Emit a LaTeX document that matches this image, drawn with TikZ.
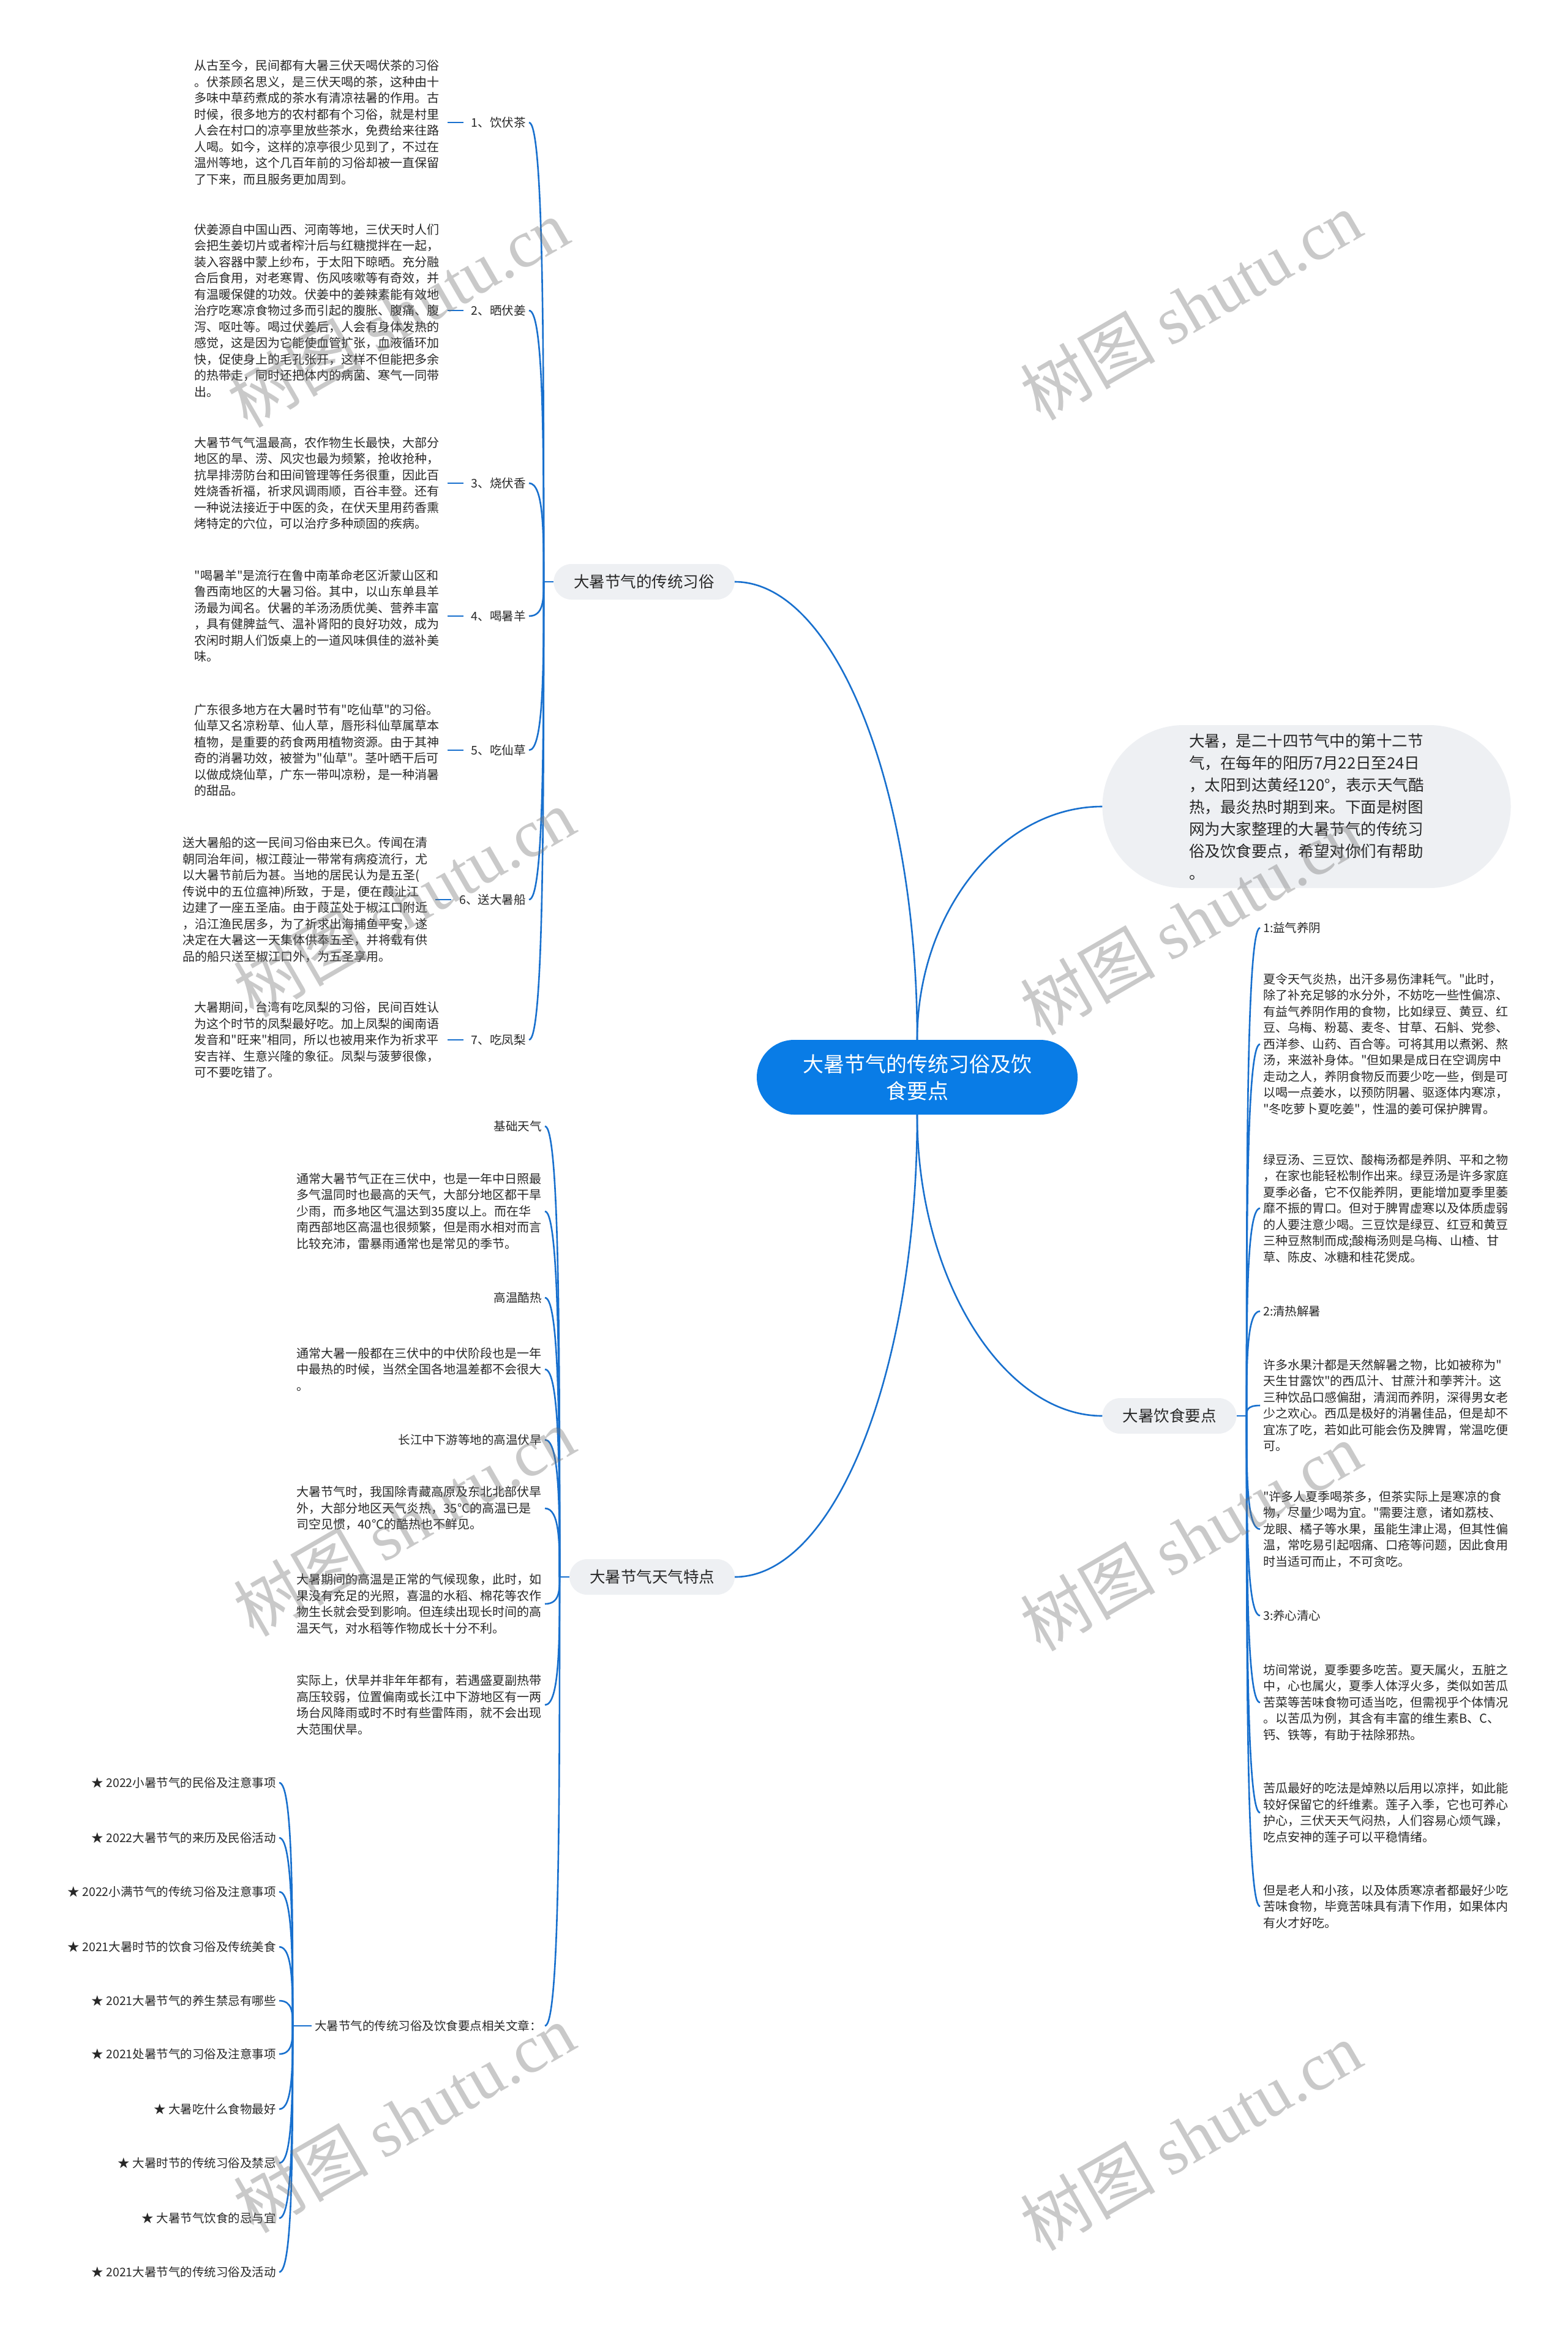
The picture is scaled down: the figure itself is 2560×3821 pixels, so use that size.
\documentclass[tikz,border=0pt]{standalone}
\usepackage{fontspec}
\setmainfont[Ligatures=TeXOff]{Noto Sans CJK SC}
\newfontfamily\wmlatin{Liberation Serif}
\usetikzlibrary{calc}
\definecolor{lineblue}{RGB}{24,112,206}
\definecolor{rootblue}{RGB}{9,124,230}
\definecolor{pillgray}{RGB}{238,240,243}
\definecolor{txt}{RGB}{40,40,40}
\newcommand\hookc[2]{\draw[conn] (#1) .. controls ($(#1)!0.5!(#1 |- #2)$) and (#1 |- #2) .. (#2);}
\begin{document}
\begin{tikzpicture}[x=1pt,y=-1pt,
  conn/.style={draw=lineblue, line width=2.6pt},
  body/.style={font=\fontsize{20}{26.5}\selectfont, align=left, inner xsep=5pt, inner ysep=3pt, text=txt},
  lbl/.style={font=\fontsize{19.5}{26.5}\selectfont, inner xsep=5pt, inner ysep=3pt, text=txt},
  pill/.style={fill=pillgray, rounded corners=29pt, minimum height=58pt, inner xsep=33pt, text=txt, font=\fontsize{25.5}{30}\selectfont},
  root/.style={fill=rootblue, text=white, rounded corners=61pt, minimum height=122pt, minimum width=524pt, align=center, font=\fontsize{34}{44}\selectfont},
  intro/.style={fill=pillgray, rounded corners=133pt, minimum height=266pt, minimum width=667pt, align=left, text=txt, font=\fontsize{25.5}{36}\selectfont},
  wmark/.style={text=black!55, opacity=0.38, rotate=30, font=\fontsize{110}{115}\selectfont}
]
\fill[white] (0,0) rectangle (2560,3821);
\useasboundingbox (0,0) rectangle (2560,3821);

% root and main branches
\node[root] (C) at (1498,1759) {大暑节气的传统习俗及饮\\食要点};
\node[pill] (P1) at (1052,950) {大暑节气的传统习俗};
\node[pill] (P2) at (1065,2575) {大暑节气天气特点};
\node[pill] (P3) at (1910,2312) {大暑饮食要点};
\node[intro] (I) at (2134,1317) {大暑，是二十四节气中的第十二节\\气，在每年的阳历7月22日至24日\\，太阳到达黄经120°，表示天气酷\\热，最炎热时期到来。下面是树图\\网为大家整理的大暑节气的传统习\\俗及饮食要点，希望对你们有帮助\\。};

\draw[conn] (C.north) .. controls (1498,1290) and (1365,950) .. (P1.east);
\draw[conn] (C.north) .. controls (1498,1490) and (1635,1317) .. (I.west);
\draw[conn] (C.south) .. controls (1498,2090) and (1640,2312) .. (P3.west);
\draw[conn] (C.south) .. controls (1498,2235) and (1365,2575) .. (P2.east);

% customs branch
\coordinate (J1) at (888,950);
\draw[conn] (P1.west) -- (J1);
\node[lbl, anchor=east] (L1) at (864,200) {1、饮伏茶};
\node[lbl, anchor=east] (L2) at (864,507) {2、晒伏姜};
\node[lbl, anchor=east] (L3) at (864,789) {3、烧伏香};
\node[lbl, anchor=east] (L4) at (864,1006) {4、喝暑羊};
\node[lbl, anchor=east] (L5) at (864,1225) {5、吃仙草};
\node[lbl, anchor=east] (L6) at (864,1469) {6、送大暑船};
\node[lbl, anchor=east] (L7) at (864,1698) {7、吃凤梨};
\foreach \n in {L1,L2,L3,L4,L5,L6,L7}{\hookc{J1}{\n.east}}

\node[body, anchor=east] (T1) at ($(L1.west)+(-42,0)$) {从古至今，民间都有大暑三伏天喝伏茶的习俗\\。伏茶顾名思义，是三伏天喝的茶，这种由十\\多味中草药煮成的茶水有清凉祛暑的作用。古\\时候，很多地方的农村都有个习俗，就是村里\\人会在村口的凉亭里放些茶水，免费给来往路\\人喝。如今，这样的凉亭很少见到了，不过在\\温州等地，这个几百年前的习俗却被一直保留\\了下来，而且服务更加周到。};
\node[body, anchor=east] (T2) at ($(L2.west)+(-42,0)$) {伏姜源自中国山西、河南等地，三伏天时人们\\会把生姜切片或者榨汁后与红糖搅拌在一起，\\装入容器中蒙上纱布，于太阳下晾晒。充分融\\合后食用，对老寒胃、伤风咳嗽等有奇效，并\\有温暖保健的功效。伏姜中的姜辣素能有效地\\治疗吃寒凉食物过多而引起的腹胀、腹痛、腹\\泻、呕吐等。喝过伏姜后，人会有身体发热的\\感觉，这是因为它能使血管扩张，血液循环加\\快，促使身上的毛孔张开，这样不但能把多余\\的热带走，同时还把体内的病菌、寒气一同带\\出。};
\node[body, anchor=east] (T3) at ($(L3.west)+(-42,0)$) {大暑节气气温最高，农作物生长最快，大部分\\地区的旱、涝、风灾也最为频繁，抢收抢种，\\抗旱排涝防台和田间管理等任务很重，因此百\\姓烧香祈福，祈求风调雨顺，百谷丰登。还有\\一种说法接近于中医的灸，在伏天里用药香熏\\烤特定的穴位，可以治疗多种顽固的疾病。};
\node[body, anchor=east] (T4) at ($(L4.west)+(-42,0)$) {"喝暑羊"是流行在鲁中南革命老区沂蒙山区和\\鲁西南地区的大暑习俗。其中，以山东单县羊\\汤最为闻名。伏暑的羊汤汤质优美、营养丰富\\，具有健脾益气、温补肾阳的良好功效，成为\\农闲时期人们饭桌上的一道风味俱佳的滋补美\\味。};
\node[body, anchor=east] (T5) at ($(L5.west)+(-42,0)$) {广东很多地方在大暑时节有"吃仙草"的习俗。\\仙草又名凉粉草、仙人草，唇形科仙草属草本\\植物，是重要的药食两用植物资源。由于其神\\奇的消暑功效，被誉为"仙草"。茎叶晒干后可\\以做成烧仙草，广东一带叫凉粉，是一种消暑\\的甜品。};
\node[body, anchor=east] (T6) at ($(L6.west)+(-42,0)$) {送大暑船的这一民间习俗由来已久。传闻在清\\朝同治年间，椒江葭沚一带常有病疫流行，尤\\以大暑节前后为甚。当地的居民认为是五圣(\\传说中的五位瘟神)所致，于是，便在葭沚江\\边建了一座五圣庙。由于葭芷处于椒江口附近\\，沿江渔民居多，为了祈求出海捕鱼平安，遂\\决定在大暑这一天集体供奉五圣，并将载有供\\品的船只送至椒江口外，为五圣享用。};
\node[body, anchor=east] (T7) at ($(L7.west)+(-42,0)$) {大暑期间，台湾有吃凤梨的习俗，民间百姓认\\为这个时节的凤梨最好吃。加上凤梨的闽南语\\发音和"旺来"相同，所以也被用来作为祈求平\\安吉祥、生意兴隆的象征。凤梨与菠萝很像，\\可不要吃错了。};
\foreach \i in {1,...,7}{\draw[conn] ([xshift=8pt]T\i.east) -- ([xshift=-8pt]L\i.west);}

% weather branch
\coordinate (J2) at (914,2575);
\draw[conn] (P2.west) -- (J2);
\node[lbl, anchor=east] (W1) at (890,1839) {基础天气};
\node[body, anchor=east] (W2) at (890,1978) {通常大暑节气正在三伏中，也是一年中日照最\\多气温同时也最高的天气，大部分地区都干旱\\少雨，而多地区气温达到35度以上。而在华\\南西部地区高温也很频繁，但是雨水相对而言\\比较充沛，雷暴雨通常也是常见的季节。};
\node[lbl, anchor=east] (W3) at (890,2119) {高温酷热};
\node[body, anchor=east] (W4) at (890,2236) {通常大暑一般都在三伏中的中伏阶段也是一年\\中最热的时候，当然全国各地温差都不会很大\\。};
\node[lbl, anchor=east] (W5) at (890,2351) {长江中下游等地的高温伏旱};
\node[body, anchor=east] (W6) at (890,2463) {大暑节气时，我国除青藏高原及东北北部伏旱\\外，大部分地区天气炎热，35°C的高温已是\\司空见惯，40°C的酷热也不鲜见。};
\node[body, anchor=east] (W7) at (890,2619) {大暑期间的高温是正常的气候现象，此时，如\\果没有充足的光照，喜温的水稻、棉花等农作\\物生长就会受到影响。但连续出现长时间的高\\温天气，对水稻等作物成长十分不利。};
\node[body, anchor=east] (W8) at (890,2784) {实际上，伏旱并非年年都有，若遇盛夏副热带\\高压较弱，位置偏南或长江中下游地区有一两\\场台风降雨或时不时有些雷阵雨，就不会出现\\大范围伏旱。};
\node[lbl, anchor=east] (R) at (890,3308) {大暑节气的传统习俗及饮食要点相关文章：};
\foreach \n in {W1,W2,W3,W4,W5,W6,W7,W8,R}{\hookc{J2}{\n.east}}

% related articles
\coordinate (J3) at (478,3308);
\draw[conn] (R.west) -- (J3);
\node[lbl, anchor=east] (S1) at (456,2911) {★ 2022小暑节气的民俗及注意事项};
\node[lbl, anchor=east] (S2) at (456,3001) {★ 2022大暑节气的来历及民俗活动};
\node[lbl, anchor=east] (S3) at (456,3089) {★ 2022小满节气的传统习俗及注意事项};
\node[lbl, anchor=east] (S4) at (456,3179) {★ 2021大暑时节的饮食习俗及传统美食};
\node[lbl, anchor=east] (S5) at (456,3267) {★ 2021大暑节气的养生禁忌有哪些};
\node[lbl, anchor=east] (S6) at (456,3354) {★ 2021处暑节气的习俗及注意事项};
\node[lbl, anchor=east] (S7) at (456,3444) {★ 大暑吃什么食物最好};
\node[lbl, anchor=east] (S8) at (456,3532) {★ 大暑时节的传统习俗及禁忌};
\node[lbl, anchor=east] (S9) at (456,3622) {★ 大暑节气饮食的忌与宜};
\node[lbl, anchor=east] (S10) at (456,3710) {★ 2021大暑节气的传统习俗及活动};
\foreach \i in {1,...,10}{\hookc{J3}{S\i.east}}

% diet branch
\coordinate (J4) at (2036,2312);
\draw[conn] (P3.east) -- (J4);
\node[lbl, anchor=west] (D1) at (2058,1515) {1:益气养阴};
\node[body, anchor=west] (D2) at (2058,1705) {夏令天气炎热，出汗多易伤津耗气。"此时，\\除了补充足够的水分外，不妨吃一些性偏凉、\\有益气养阴作用的食物，比如绿豆、黄豆、红\\豆、乌梅、粉葛、麦冬、甘草、石斛、党参、\\西洋参、山药、百合等。可将其用以煮粥、熬\\汤，来滋补身体。"但如果是成日在空调房中\\走动之人，养阴食物反而要少吃一些，倒是可\\以喝一点姜水，以预防阴暑、驱逐体内寒凉，\\"冬吃萝卜夏吃姜"，性温的姜可保护脾胃。};
\node[body, anchor=west] (D3) at (2058,1973) {绿豆汤、三豆饮、酸梅汤都是养阴、平和之物\\，在家也能轻松制作出来。绿豆汤是许多家庭\\夏季必备，它不仅能养阴，更能增加夏季里萎\\靡不振的胃口。但对于脾胃虚寒以及体质虚弱\\的人要注意少喝。三豆饮是绿豆、红豆和黄豆\\三种豆熬制而成;酸梅汤则是乌梅、山楂、甘\\草、陈皮、冰糖和桂花煲成。};
\node[lbl, anchor=west] (D4) at (2058,2141) {2:清热解暑};
\node[body, anchor=west] (D5) at (2058,2295) {许多水果汁都是天然解暑之物，比如被称为"\\天生甘露饮"的西瓜汁、甘蔗汁和荸荠汁。这\\三种饮品口感偏甜，清润而养阴，深得男女老\\少之欢心。西瓜是极好的消暑佳品，但是却不\\宜冻了吃，若如此可能会伤及脾胃，常温吃便\\可。};
\node[body, anchor=west] (D6) at (2058,2497) {"许多人夏季喝茶多，但茶实际上是寒凉的食\\物，尽量少喝为宜。"需要注意，诸如荔枝、\\龙眼、橘子等水果，虽能生津止渴，但其性偏\\温，常吃易引起咽痛、口疮等问题，因此食用\\时当适可而止，不可贪吃。};
\node[lbl, anchor=west] (D7) at (2058,2638) {3:养心清心};
\node[body, anchor=west] (D8) at (2058,2780) {坊间常说，夏季要多吃苦。夏天属火，五脏之\\中，心也属火，夏季人体浮火多，类似如苦瓜\\苦菜等苦味食物可适当吃，但需视乎个体情况\\。以苦瓜为例，其含有丰富的维生素B、C、\\钙、铁等，有助于祛除邪热。};
\node[body, anchor=west] (D9) at (2058,2960) {苦瓜最好的吃法是焯熟以后用以凉拌，如此能\\较好保留它的纤维素。莲子入季，它也可养心\\护心，三伏天天气闷热，人们容易心烦气躁，\\吃点安神的莲子可以平稳情绪。};
\node[body, anchor=west] (D10) at (2058,3113) {但是老人和小孩，以及体质寒凉者都最好少吃\\苦味食物，毕竟苦味具有清下作用，如果体内\\有火才好吃。};
\foreach \i in {1,...,10}{\hookc{J4}{D\i.west}}

% watermarks
\foreach \p [count=\k] in {(650,511),(1945,499),(660,1474),(1945,1503),(660,2485),(1945,2509),(660,3459),(1945,3488)}{
  \node[wmark] (wm\k) at \p {树图 {\wmlatin shutu.cn}};
}
\end{tikzpicture}
\end{document}
